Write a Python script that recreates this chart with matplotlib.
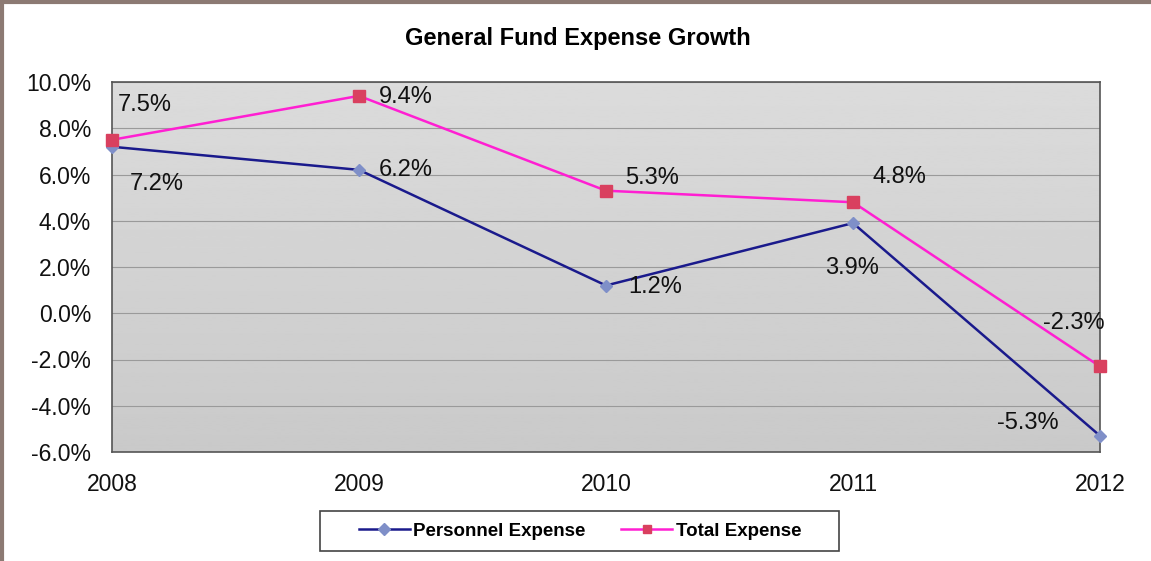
import numpy as np
import matplotlib.pyplot as plt
from matplotlib.lines import Line2D
from matplotlib.patches import Rectangle
from matplotlib.ticker import FuncFormatter

plt.rcParams['font.family'] = ['Liberation Sans', 'DejaVu Sans']

years = [2008, 2009, 2010, 2011, 2012]
personnel = [7.2, 6.2, 1.2, 3.9, -5.3]
total = [7.5, 9.4, 5.3, 4.8, -2.3]

# label offsets in points (dx to left edge, dy to text centre)
personnel_off = [(13, -27), (14, 0), (16, -1), (-20, -32), (-74, 9)]
total_off = [(4, 25), (14, -1), (14, 9), (14, 18), (-41, 31)]

fig = plt.figure(figsize=(11.51, 5.61), dpi=100)
fig.patch.set_facecolor('white')
# frame along the left and top edges
fig.add_artist(Line2D([0.0015, 0.0015], [0, 1], transform=fig.transFigure,
                      color='#8c7a73', linewidth=3))
fig.add_artist(Line2D([0, 1], [0.997, 0.997], transform=fig.transFigure,
                      color='#8c7a73', linewidth=3))

ax = fig.add_axes([112 / 1151, 1 - 452 / 561, 988 / 1151, 370 / 561])
ax.set_facecolor('#cbcbcb')
# soft vertical shading of the plot area
grad = np.linspace(0.86, 0.79, 256).reshape(-1, 1)
ax.imshow(grad, extent=[2008, 2012, -6, 10], aspect='auto', cmap='gray',
          vmin=0, vmax=1, zorder=0, origin='upper')

ax.set_xlim(2008, 2012)
ax.set_ylim(-6, 10)
ax.set_yticks(np.arange(-6, 10.1, 2))
ax.set_xticks(years)
ax.yaxis.set_major_formatter(FuncFormatter(lambda v, p: f'{v:.1f}%'))
ax.grid(axis='y', color='#9a9a9a', linewidth=0.8, zorder=1)
ax.tick_params(length=0, labelsize=16.5, colors='#111111')
ax.tick_params(axis='y', pad=15)
ax.tick_params(axis='x', pad=15)
for s in ax.spines.values():
    s.set_color('#555555')
    s.set_linewidth(1.2)

ax.plot(years, personnel, color='#1a1a8c', linewidth=1.8, marker='D',
        markersize=6, markerfacecolor='#7f8fc8', markeredgecolor='#7f8fc8',
        label='Personnel Expense', zorder=3, clip_on=False)
ax.plot(years, total, color='#ff1fd2', linewidth=1.8, marker='s',
        markersize=8, markerfacecolor='#d9405f', markeredgecolor='#d9405f',
        label='Total Expense', zorder=4, clip_on=False)

for x, y, off in zip(years, personnel, personnel_off):
    ax.annotate(f'{y:.1f}%', (x, y), xytext=off, textcoords='offset points',
                fontsize=17, color='#111111', ha='left', va='center', zorder=5)
for x, y, off in zip(years, total, total_off):
    ax.annotate(f'{y:.1f}%', (x, y), xytext=off, textcoords='offset points',
                fontsize=17, color='#111111', ha='left', va='center', zorder=5)

fig.text(578 / 1151, 1 - 38 / 561, 'General Fund Expense Growth',
         ha='center', va='center', fontsize=17, fontweight='bold')

# legend box drawn separately so the side padding can be wider
fig.add_artist(Rectangle((320 / 1151, 1 - 551 / 561), 519 / 1151, 40 / 561,
                         transform=fig.transFigure, facecolor='white',
                         edgecolor='#444444', linewidth=1.2, zorder=1))
leg = fig.legend(loc='center', bbox_to_anchor=(580 / 1151, 1 - 531 / 561),
                 ncol=2, frameon=False, handlelength=2.7, handletextpad=0.2,
                 columnspacing=1.9, prop={'size': 13.5, 'weight': 'bold'})
leg.set_zorder(2)
for h in leg.legend_handles:
    h.set_markersize(6)

fig.savefig('out.png', dpi=100)
